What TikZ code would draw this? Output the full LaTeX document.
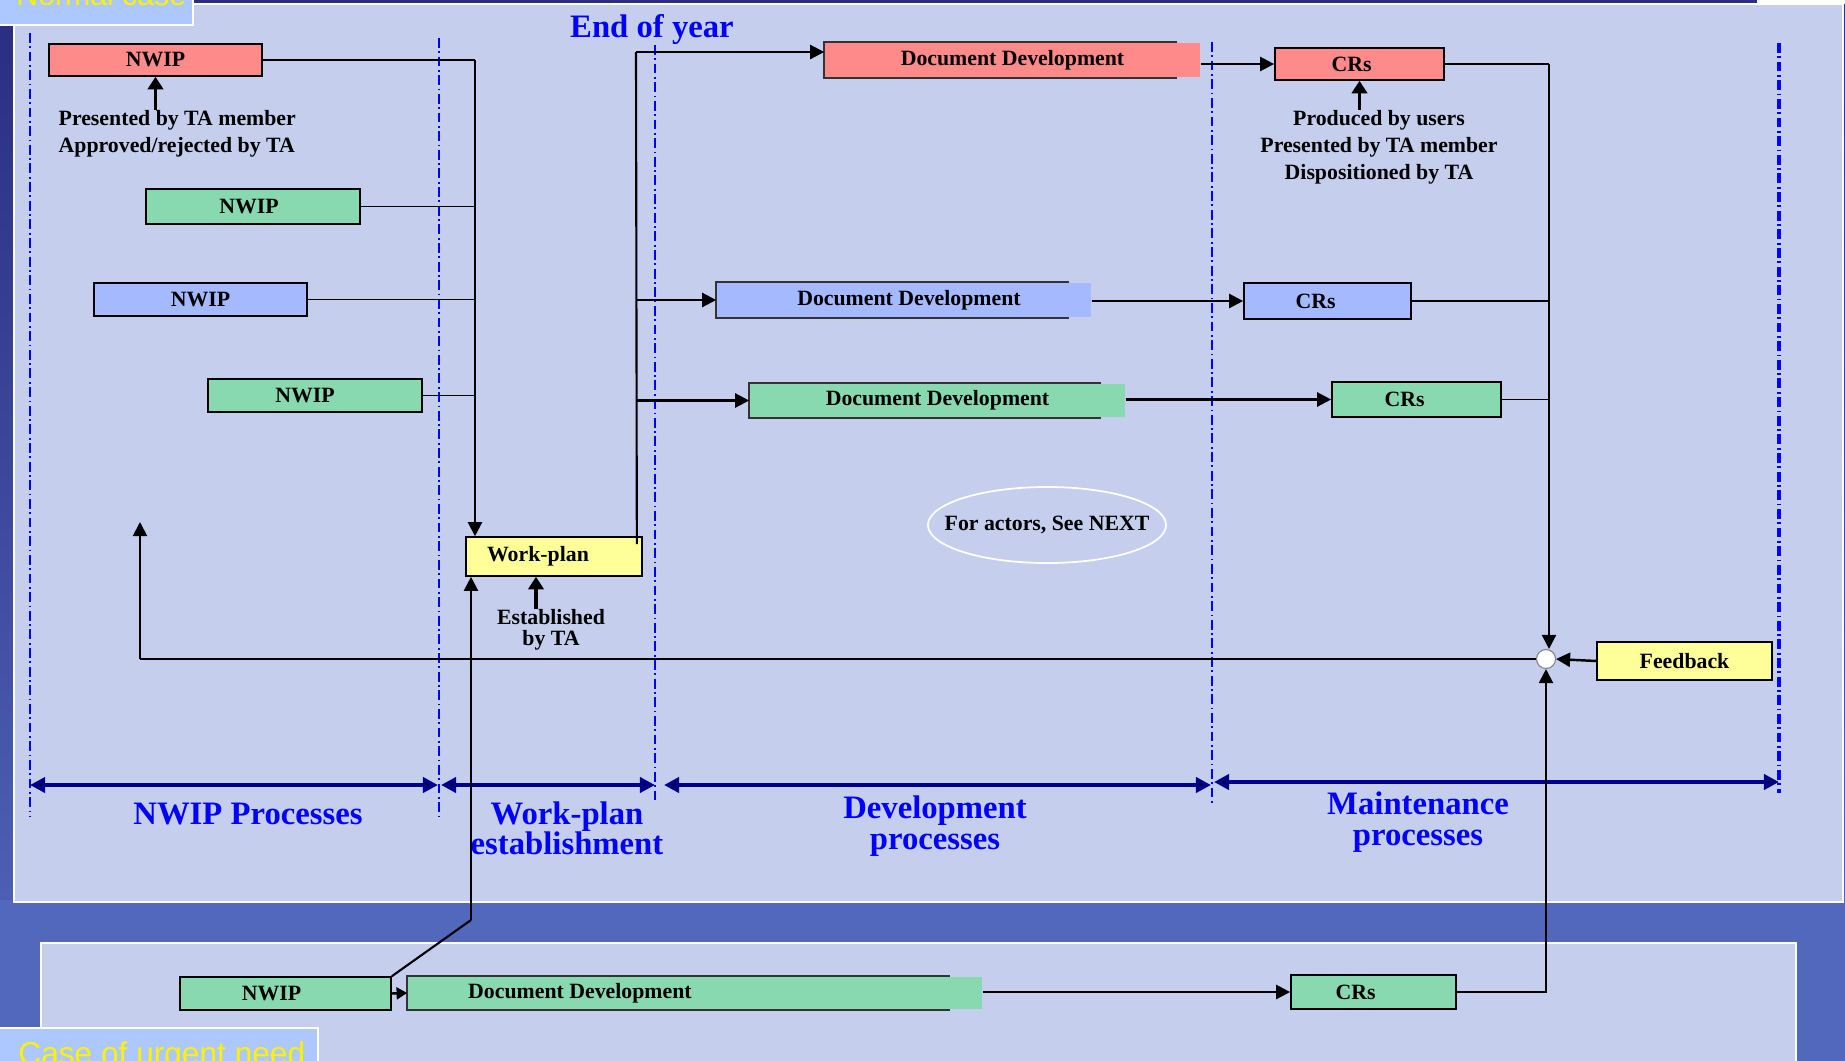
\documentclass[tikz,border=0pt]{standalone}
\usepackage{fontspec}
\setmainfont{Liberation Serif}
\setsansfont{Liberation Sans}
\usetikzlibrary{arrows.meta,shapes.geometric}

\definecolor{panel}{RGB}{197,206,236}
\definecolor{bgtop}{RGB}{42,45,130}
\definecolor{bgbottom}{RGB}{82,104,188}
\definecolor{tagblue}{RGB}{173,200,255}
\definecolor{pinkbox}{RGB}{255,138,138}
\definecolor{greenbox}{RGB}{136,217,176}
\definecolor{bluebox}{RGB}{165,185,255}
\definecolor{yellowbox}{RGB}{255,255,153}
\definecolor{phaseblue}{RGB}{0,0,255}
\definecolor{spannavy}{RGB}{0,0,140}

\tikzset{
  lbl/.style={font=\fontsize{6.2}{7.6}\selectfont\bfseries},
  procbox/.style={lbl, draw=black, line width=0.45pt, inner sep=0pt},
  devbox/.style={lbl, inner sep=0pt},
  devedge/.style={draw=black!80, line width=0.5pt},
  phase/.style={draw=phaseblue, line width=0.6pt, dash pattern=on 2.8pt off 1pt on 0.5pt off 1pt},
  span/.style={draw=spannavy, line width=1.1pt, {Triangle[length=4.3pt,width=4.3pt,fill=black]}-{Triangle[length=4.3pt,width=4.3pt,fill=black]}},
  phasetext/.style={text=phaseblue, align=center, font=\fontsize{9.3}{8.6}\selectfont\bfseries},
  thinline/.style={draw=black, line width=0.35pt},
  busline/.style={draw=black, line width=0.6pt},
  busarrow/.style={busline, -{Triangle[length=4pt,width=4pt]}},
  flow/.style={draw=black, line width=0.7pt, -{Triangle[length=4pt,width=4pt]}},
  notearrow/.style={draw=black, line width=0.9pt, -{Triangle[length=3.6pt,width=4.4pt]}},
  note/.style={lbl, inner sep=0pt},
  tag/.style={text=yellow, font=\sffamily\fontsize{8.6}{10}\selectfont}
}

\begin{document}
\begin{tikzpicture}[x=0.01cm, y=-0.01cm]
\useasboundingbox (0,0) rectangle (1845,1060);
\clip (0,0) rectangle (1845,1060);

% Background and panels
\shade[top color=bgtop, bottom color=bgbottom] (0,0) rectangle (1845,1060);
\fill[bgbottom] (0,900) rectangle (1845,1060);
\draw[white, line width=0.7pt, fill=panel] (14,4) rectangle (1843,902);
\draw[white, line width=0.7pt, fill=panel] (41,943) rectangle (1796,1075);
\fill[white] (1757,-2) rectangle (1850,4);

% Case tags
\draw[white, line width=0.7pt, fill=tagblue] (-5,-5) rectangle (193,25);
\node[tag, anchor=base west] (normal) at (4,5) {Normal case};
\draw[white, line width=0.7pt, fill=tagblue] (-5,1028) rectangle (318,1075);
\node[tag, font=\sffamily\fontsize{9}{10}\selectfont, anchor=base west] (urgent) at (6,1064) {Case of urgent need};

% Phase borders
\draw[phase] (30,33) -- (30,817);
\draw[phase] (439,38) -- (439,820);
\draw[phase] (655,45) -- (655,803);
\draw[phase] (1212,42) -- (1212,803);
\draw[phase, line width=1pt] (1779,43) -- (1779,793);

% Phase spans
\draw[span] (30,785) -- (438,785);
\draw[span] (441,785) -- (655,785);
\draw[span] (664,785) -- (1211,785);
\draw[span] (1214,782) -- (1779,782);

\node[phasetext] (nwipph) at (248,814) {NWIP Processes};
\node[phasetext] (wpph) at (567,828) {Work-plan\\establishment};
\node[phasetext] (devph) at (935,826) {Development\\processes};
\node[phasetext] (mntph) at (1418,822) {Maintenance\\processes};
\node[phasetext] (eoy) at (652,30) {End of year};

% New work item proposals
\node[procbox, fill=pinkbox, minimum width=2.13cm, minimum height=0.32cm] (nw1) at (155.5,60) {NWIP};
\node[procbox, fill=greenbox, minimum width=2.14cm, minimum height=0.35cm] (nw2) at (253,206.5) {NWIP\hspace*{0.08cm}};
\node[procbox, fill=bluebox, minimum width=2.13cm, minimum height=0.33cm] (nw3) at (200.5,299.5) {NWIP};
\node[procbox, fill=greenbox, minimum width=2.14cm, minimum height=0.33cm] (nw4) at (315,395.5) {NWIP\hspace*{0.2cm}};
\node[note, align=left, anchor=north west] (nwnote) at (58,110) {Presented by TA member\\Approved/rejected by TA};

% Work-plan
\node[procbox, fill=yellowbox, minimum width=1.76cm, minimum height=0.39cm] (wp) at (554,556.5) {Work-plan\hspace*{0.32cm}};
\node[note, align=center, anchor=north, font=\fontsize{6.2}{5.8}\selectfont\bfseries] (est) at (551,609) {Established\\by TA};

% Document development
\node[devbox, fill=pinkbox, minimum width=3.75cm, minimum height=0.34cm] (dd1) at (1012.5,60) {Document Development};
\node[devbox, fill=bluebox, minimum width=3.74cm, minimum height=0.34cm] (dd2) at (904,300) {\hspace*{0.1cm}Document Development};
\node[devbox, fill=greenbox, minimum width=3.75cm, minimum height=0.33cm] (dd3) at (937.5,400.5) {Document Development};
\draw[devedge] ([xshift=3.53cm]dd1.north west) -- (dd1.north west) -- (dd1.south west) -- ([xshift=3.53cm]dd1.south west);
\draw[devedge] ([xshift=3.53cm]dd2.north west) -- (dd2.north west) -- (dd2.south west) -- ([xshift=3.53cm]dd2.south west);
\draw[devedge] ([xshift=3.52cm]dd3.north west) -- (dd3.north west) -- (dd3.south west) -- ([xshift=3.52cm]dd3.south west);

% Change requests
\node[procbox, fill=pinkbox, minimum width=1.69cm, minimum height=0.32cm] (cr1) at (1359.5,64) {CRs\hspace*{0.16cm}};
\node[procbox, fill=bluebox, minimum width=1.67cm, minimum height=0.36cm] (cr2) at (1327.5,301) {CRs\hspace*{0.24cm}};
\node[procbox, fill=greenbox, minimum width=1.69cm, minimum height=0.35cm] (cr3) at (1416.5,399.5) {CRs\hspace*{0.24cm}};
\node[note, align=center, anchor=north] (crnote) at (1379,110) {Produced by users\\Presented by TA member\\Dispositioned by TA};

% Feedback
\node[procbox, fill=yellowbox, minimum width=1.75cm, minimum height=0.38cm] (fb) at (1684.5,661) {Feedback};
\node[circle, draw=gray, fill=white, line width=0.3pt, inner sep=0pt, minimum size=0.19cm] (jn) at (1546,659) {};
\node[lbl] (actors) at (1047,525) {For actors, See NEXT};
\draw[white, line width=0.5pt] (actors.center) ellipse [x radius=1.19cm, y radius=0.38cm];

% Urgent case
\node[procbox, fill=greenbox, minimum width=2.11cm, minimum height=0.33cm] (nwu) at (285.5,993.5) {NWIP\hspace*{0.28cm}};
\node[devbox, fill=greenbox, minimum width=5.74cm, minimum height=0.32cm] (ddu) at (695,993) {Document Development\hspace*{2.3cm}};
\draw[devedge] ([xshift=5.43cm]ddu.north west) -- (ddu.north west) -- (ddu.south west) -- ([xshift=5.43cm]ddu.south west);
\node[procbox, fill=greenbox, minimum width=1.65cm, minimum height=0.34cm] (cru) at (1373.5,992) {CRs\hspace*{0.36cm}};

% NWIPs into the work-plan
\coordinate (bustop) at (475,60);
\draw[thinline] (nw1.east) -- (bustop);
\draw[thinline] (nw2.east) -- (nw2.east -| bustop);
\draw[thinline] (nw3.east) -- (nw3.east -| bustop);
\draw[thinline] (nw4.east) -- (nw4.east -| bustop);
\draw[busarrow] (bustop) -- (bustop |- wp.north);

% Work-plan out to development
\coordinate (fork) at (636,52);
\draw[busline] ([xshift=-0.06cm, yshift=-0.08cm]wp.north east) -- (fork);
\draw[flow] (fork) -- (fork -| dd1.west);
\draw[flow] (fork |- dd2.west) -- (dd2.west);
\draw[flow] (fork |- dd3.west) -- (dd3.west);

% Development to CRs
\draw[flow] (cr1.west -| dd1.east) -- (cr1.west);
\draw[flow] (cr2.west -| dd2.east) -- (cr2.west);
\draw[flow] (cr3.west -| dd3.east) -- (cr3.west);

% CRs to feedback junction
\coordinate (crbus) at (1549,64);
\draw[thinline] (cr1.east) -- (crbus);
\draw[thinline] (cr2.east) -- (cr2.east -| crbus);
\draw[thinline] (cr3.east) -- (cr3.east -| crbus);
\draw[busarrow] (crbus) -- (crbus |- jn.north);
\draw[flow] (fb.west) -- (jn.east);
\coordinate (backtip) at (140,522);
\draw[thinline] (jn.west) -- (jn.west -| backtip);
\draw[busarrow] (jn.west -| backtip) -- (backtip);

% Urgent path
\coordinate (kink) at (471,920);
\draw[busline] (nwu.north east) -- (kink);
\draw[busarrow] (kink) -- (kink |- wp.south);
\draw[flow, -{Triangle[length=3pt,width=3.4pt]}] (nwu.east) -- (ddu.west);
\draw[flow] (cru.west -| ddu.east) -- (cru.west);
\draw[busarrow] (cru.east) -| (jn.south);

% Notes
\draw[notearrow] (nw1.south |- nwnote.north) -- (nw1.south);
\draw[notearrow] (cr1.south |- crnote.north) -- (cr1.south);
\coordinate (esttip) at ([xshift=-0.18cm]wp.south);
\draw[notearrow] (esttip |- est.north) -- (esttip);

\end{tikzpicture}
\end{document}
